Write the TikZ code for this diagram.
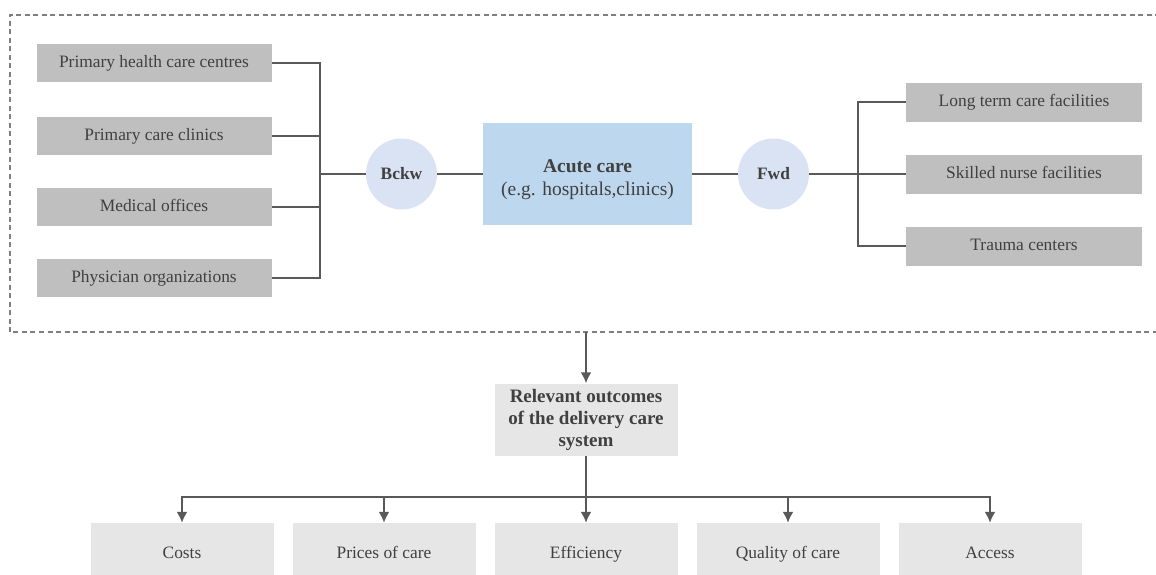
\documentclass[tikz,border=0pt]{standalone}
\usepackage{fontspec}
\setmainfont{Liberation Serif}
\usetikzlibrary{arrows.meta}
\definecolor{boxgray}{HTML}{BFBFBF}
\definecolor{paleg}{HTML}{E6E6E6}
\definecolor{circblue}{HTML}{DAE3F3}
\definecolor{acuteblue}{HTML}{BDD7EE}
\definecolor{linegray}{HTML}{595959}
\definecolor{txtgray}{HTML}{404040}
\definecolor{dashgray}{HTML}{7F7F7F}

\begin{document}
\begin{tikzpicture}[x=1pt,y=-1pt,inner sep=0pt,text=txtgray,
  side/.style={fill=boxgray,minimum width=235pt,minimum height=38pt,text height=12pt,text depth=4pt,font=\fontsize{17.4}{20}\selectfont},
  hub/.style={circle,fill=circblue,minimum size=71pt,font=\fontsize{17.4}{20}\selectfont\bfseries},
  outc/.style={fill=paleg,minimum width=183pt,minimum height=62pt,text height=12pt,text depth=4pt,font=\fontsize{17.4}{20}\selectfont},
  link/.style={draw=linegray,line width=2pt},
  arr/.style={link,-{Latex[length=11pt,width=11pt]}}]
\clip (0,0) rectangle (1156,575);
\draw[dashgray,line width=1.5pt,dash pattern=on 5pt off 3.5pt] (1160,15) -- (10,15) -- (10,332) -- (1160,332);

\node[side] (l1) at (154,63.5) {Primary health care centres};
\node[side] (l2) at (154,136) {Primary care clinics};
\node[side] (l3) at (154,207) {Medical offices};
\node[side] (l4) at (154,278) {Physician organizations};
\coordinate (jl) at (320,174);

\node[hub] (bckw) at (401.5,174) {Bckw};
\node[fill=acuteblue,minimum width=209pt,minimum height=102pt,
  font=\fontsize{19.5}{23}\selectfont] (acute) at (587.5,174)
  {\raisebox{-5pt}[\height][\depth]{\begin{tabular}{@{}c@{}}\textbf{Acute care}\\(e.g. hospitals,clinics)\end{tabular}}};
\node[hub] (fwd) at (773.5,174) {Fwd};

\coordinate (jr) at (858,174);
\node[side,minimum width=236pt,minimum height=39pt] (r1) at (1024,102.5) {Long term care facilities};
\node[side,minimum width=236pt,minimum height=39pt] (r2) at (1024,174) {Skilled nurse facilities};
\node[side,minimum width=236pt,minimum height=39pt] (r3) at (1024,246) {Trauma centers};

\draw[link] (l1.east) -| (jl);
\draw[link] (l4.east) -| (jl);
\draw[link] (l2.east) -| (jl);
\draw[link] (l3.east) -| (jl);
\draw[link] (jl) -- (bckw) -- (acute) -- (fwd) -- (jr) -- (r2.west);
\draw[link] (jr) |- (r1.west);
\draw[link] (jr) |- (r3.west);

\coordinate (top) at (586,332);
\node[fill=paleg,minimum width=183pt,minimum height=72pt,align=center,
  font=\fontsize{19}{22}\selectfont\bfseries] (rel) at (586,419.5)
  {Relevant outcomes\\of the delivery care\\system};
\coordinate (jb) at (586,497);

\node[outc] (o1) at (182,554) {Costs};
\node[outc] (o2) at (384,554) {Prices of care};
\node[outc] (o3) at (586,554) {Efficiency};
\node[outc] (o4) at (788,554) {Quality of care};
\node[outc] (o5) at (990,554) {Access};

\draw[arr] (top) -- (rel.north);
\draw[link] (rel.south) -- (jb);
\foreach \i in {1,...,5}
  \draw[arr] (jb) -| (o\i.north);
\end{tikzpicture}
\end{document}
